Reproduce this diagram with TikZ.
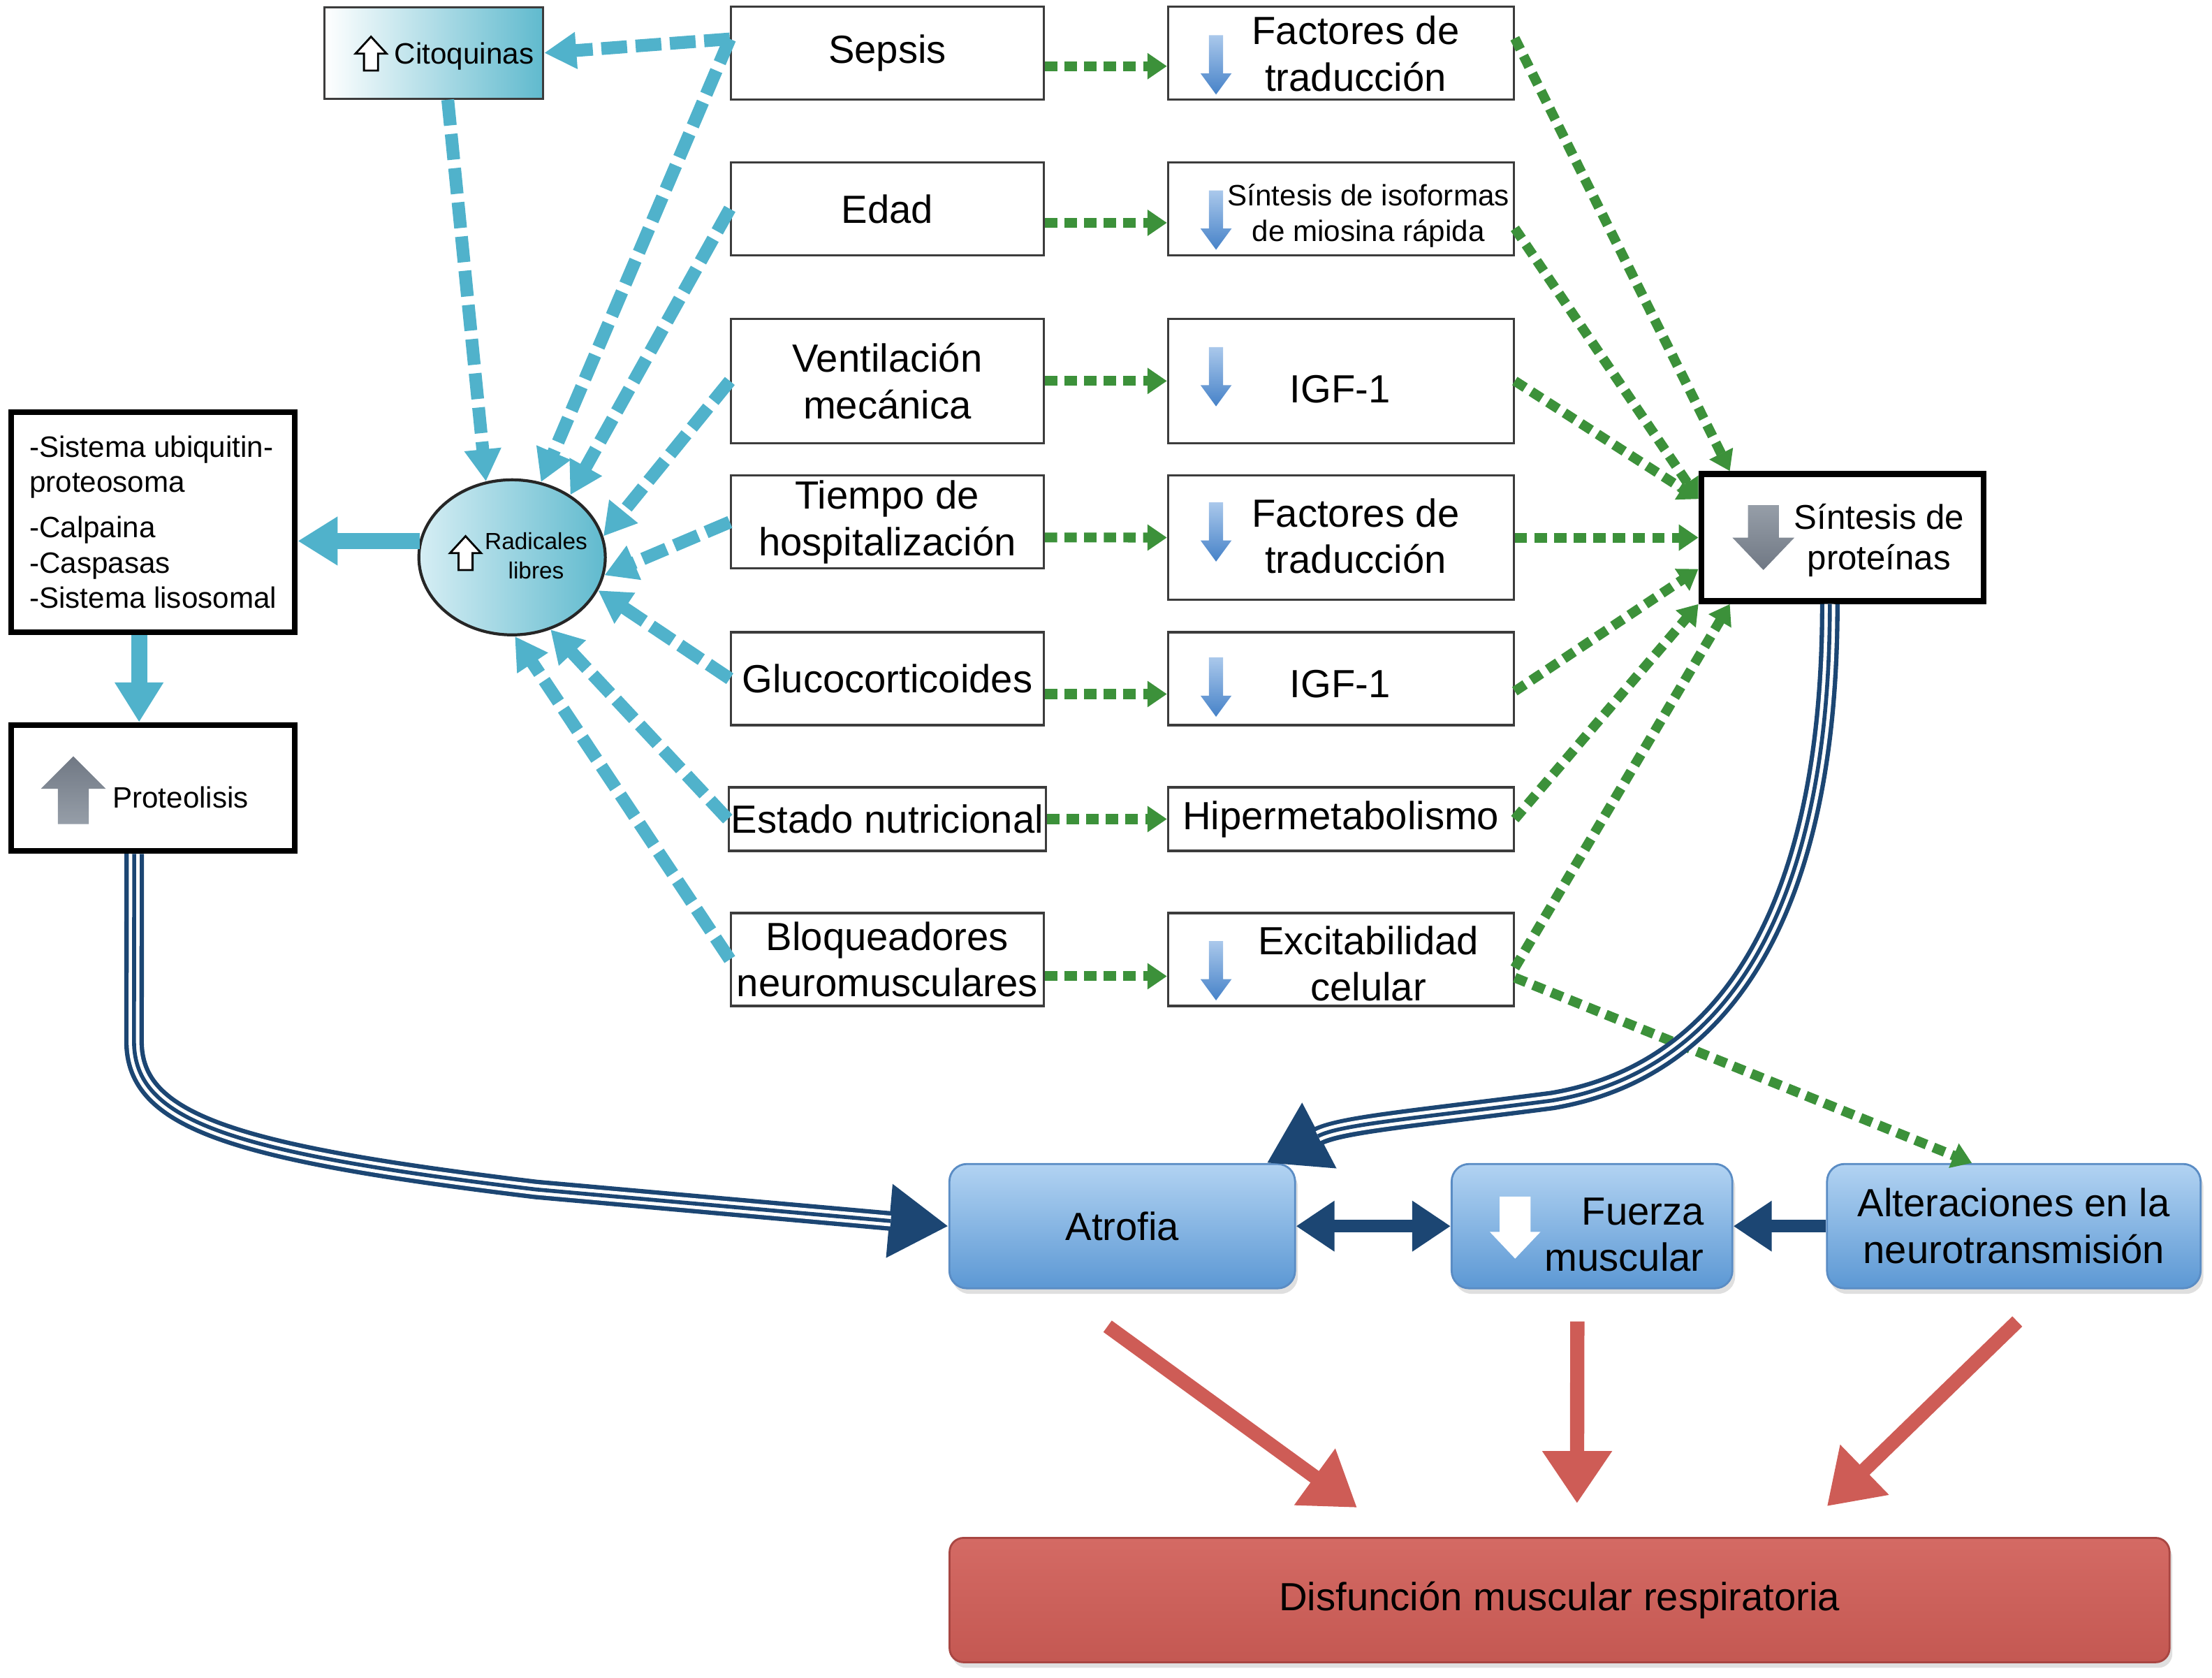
\documentclass[tikz,border=0pt]{standalone}
\usepackage{fontspec}
\setmainfont{Liberation Sans}
\usetikzlibrary{arrows.meta, shapes.geometric, shadows}

\definecolor{cyanline}{RGB}{80,178,203}
\definecolor{citocyan}{RGB}{96,186,206}
\definecolor{radlight}{RGB}{214,238,244}
\definecolor{greenline}{RGB}{60,145,58}
\definecolor{navyline}{RGB}{28,70,115}
\definecolor{redline}{RGB}{206,92,86}
\definecolor{boxgrey}{RGB}{60,60,60}
\definecolor{bluetop}{RGB}{178,211,242}
\definecolor{bluebot}{RGB}{92,152,212}
\definecolor{blueedge}{RGB}{90,140,196}
\definecolor{redtop}{RGB}{212,106,100}
\definecolor{redbot}{RGB}{196,88,82}
\definecolor{rededge}{RGB}{168,70,66}
\definecolor{icontop}{RGB}{170,200,235}
\definecolor{iconbot}{RGB}{70,130,200}
\definecolor{greytop}{RGB}{150,158,168}
\definecolor{greybot}{RGB}{112,120,132}

\newcommand{\fbig}{\fontsize{16}{19}\selectfont}
\newcommand{\fmid}{\fontsize{14}{16.7}\selectfont}
\newcommand{\fsmall}{\fontsize{12}{14.4}\selectfont}
\newcommand{\ftiny}{\fontsize{9.5}{12}\selectfont}

\begin{document}
\begin{tikzpicture}[
    x=0.0202cm, y=-0.0202cm,
    every node/.style={align=center, inner sep=1pt, font=\fbig},
    colbox/.style={draw=boxgrey, line width=0.9pt, fill=white, minimum width=4.48cm, minimum height=1.33cm}, % factor boxes
    effbox/.style={colbox, minimum width=4.95cm}, % effect boxes
    heavybox/.style={draw=black, line width=2.4pt, fill=white, minimum width=4.06cm},
    bluebox/.style={draw=blueedge, line width=0.8pt, rounded corners=0.25cm, top color=bluetop, bottom color=bluebot, minimum height=1.78cm, drop shadow={shadow xshift=0.04cm, shadow yshift=-0.08cm, opacity=0.25}},
    cyandash/.style={draw=cyanline, line width=5.2pt, dash pattern=on 10.5pt off 3.5pt, -{Triangle[length=0.46cm, width=0.5cm]}},
    cyanfat/.style={draw=cyanline, line width=6.5pt, -{Triangle[length=0.57cm, width=0.66cm]}},
    greendot/.style={draw=greenline, line width=4pt, dash pattern=on 5pt off 3pt, -{Triangle[length=0.28cm, width=0.36cm]}},
    navyarr/.style={draw=navyline, line width=5pt, >={Triangle[length=0.55cm, width=0.69cm]}},
    redarr/.style={draw=redline, line width=5.8pt, -{Triangle[length=0.75cm, width=0.95cm]}},
    tube/.style={draw=navyline, line width=8pt, -{Triangle[length=0.85cm, width=1cm]},
        postaction={draw=white, line width=4.4pt, shorten >=0.83cm, -},
        postaction={draw=navyline, line width=1.6pt, shorten >=0.83cm, -}},
    pics/blockarr/.style n args={4}{code={
        \path[pic actions] (-#1,-#3) -- (#1,-#3) -- (#1,#4) -- (#2,#4) -- (0,#3) -- (-#2,#4) -- (-#1,#4) -- cycle;}}
    ]
    \useasboundingbox (0,0) rectangle (1568,1189);

    % causes
    \node[colbox] (sepsis) at (629,37.5) {Sepsis};
    \node[colbox] (edad) at (629,148) {Edad};
    \node[colbox, minimum height=1.78cm] (vent) at (629,270) {Ventilación\\mecánica};
    \node[colbox] (tiempo) at (629,370) {Tiempo de\\hospitalización};
    \node[colbox] (gluco) at (629,481) {Glucocorticoides};
    \node[colbox, minimum height=0.91cm] (estado) at (629,580.5) {Estado nutricional};
    \node[colbox] (bloq) at (629,680) {Bloqueadores\\neuromusculares};

    % effects
    \node[effbox] (fac1) at (950.5,37.5) {};
    \node[effbox] (iso) at (950.5,148) {};
    \node[effbox, minimum height=1.78cm] (igf1) at (950.5,270) {};
    \node[effbox, minimum height=1.78cm] (fac2) at (950.5,381) {};
    \node[effbox] (igf2) at (950.5,481) {};
    \node[effbox, minimum height=0.91cm] (hiper) at (950.5,580.5) {Hipermetabolismo};
    \node[effbox] (exci) at (950.5,680) {};
    \node (fac1-t) at (961,38) {Factores de\\traducción};
    \node[font=\fsmall] (iso-t) at (970,153) {Síntesis de isoformas\\de miosina rápida};
    \node (igf1-t) at (950,276) {IGF-1};
    \node (fac2-t) at (961,380) {Factores de\\traducción};
    \node (igf2-t) at (950,485) {IGF-1};
    \node (exci-t) at (970,683) {Excitabilidad\\celular};
    \foreach \y in {46,156,267,377,487,688}
        \pic[top color=icontop, bottom color=iconbot] at (862,\y) {blockarr={5}{11}{21}{6}};

    % left side
    \node[draw=boxgrey, line width=0.9pt, left color=white, right color=citocyan, minimum width=3.13cm, minimum height=1.31cm] (cito) at (307.5,37.5) {};
    \node[font=\fsmall] (cito-t) at (329,40) {Citoquinas};
    \node[ellipse, draw=black!85, line width=1.2pt, left color=radlight, right color=citocyan, minimum width=2.67cm, minimum height=2.22cm, inner sep=0pt] (rad) at (363,395) {};
    \node[font=\ftiny] (rad-t) at (380,394) {Radicales\\libres};
    \foreach \p in {(263,38),(330,392)}
        \pic[draw=black, line width=0.8pt, fill=white, rotate=180] at \p {blockarr={5}{11}{12}{0}};
    \node[heavybox, minimum height=3.15cm, align=left, font=\fsmall] (ubiq) at (108.5,370) {-Sistema ubiquitin-\\proteosoma\\[4pt]-Calpaina\\-Caspasas\\-Sistema lisosomal};
    \node[heavybox, minimum height=1.8cm] (prot) at (108.5,558.5) {};
    \node[font=\fsmall] (prot-t) at (128,565) {Proteolisis};
    \pic[top color=greybot, bottom color=greytop, rotate=180] at (52,560) {blockarr={11}{23}{24}{1}};

    % protein synthesis
    \node[heavybox, minimum width=4.04cm, minimum height=1.82cm] (sint) at (1306,381) {};
    \node[font=\fmid] (sint-t) at (1332,383) {Síntesis de\\proteínas};
    \pic[top color=greytop, bottom color=greybot] at (1250,381) {blockarr={11}{22}{23}{0}};

    % outcome boxes
    \node[bluebox, minimum width=4.95cm] (atro) at (795.5,869) {Atrofia};
    \node[bluebox, minimum width=4.02cm] (fuer) at (1128.5,869) {};
    \node[anchor=east, align=right] (fuer-t) at (1210,875) {Fuerza\\muscular};
    \pic[fill=white] at (1074,870) {blockarr={11}{18}{22}{3}};
    \node[bluebox, minimum width=5.35cm] (alte) at (1427.5,869) {Alteraciones en la\\neurotransmisión};
    \node[draw=rededge, line width=0.8pt, rounded corners=0.2cm, top color=redtop, bottom color=redbot, minimum width=17.47cm, minimum height=1.78cm, drop shadow={shadow xshift=0.04cm, shadow yshift=-0.08cm, opacity=0.25}] (disf) at (1105.5,1134) {Disfunción muscular respiratoria};

    % cyan connectors
    \draw[cyandash] ([yshift=0.2cm]sepsis.west) -- (cito.east);
    \draw[cyandash] ([xshift=0.2cm]cito.south) -- (rad.109);
    \draw[cyandash] ([yshift=0.2cm]sepsis.west) -- (rad.69);
    \foreach \src/\ang in {edad/47, vent/13, tiempo/-11, gluco/-21, estado/-62, bloq/-88}
        \draw[cyandash] (\src.west) -- (rad.\ang);
    \draw[cyanfat] (rad.170) -- (rad.170 -| ubiq.east);
    \draw[cyanfat] ([xshift=-0.2cm]ubiq.south) -- ([xshift=-0.2cm]prot.north);

    % green connectors
    \foreach \a/\b/\s/\t in {sepsis/fac1/-0.19cm/-0.19cm, edad/iso/-0.2cm/-0.2cm, vent/igf1/0cm/0cm, tiempo/fac2/-0.22cm/0cm, gluco/igf2/-0.22cm/-0.22cm, estado/hiper/0cm/0cm, bloq/exci/-0.24cm/-0.24cm}
        \draw[greendot] ([yshift=\s]\a.east) -- ([yshift=\t]\b.west);
    \draw[greendot] ([yshift=0.21cm]fac1.east) -- ([xshift=0.45cm]sint.north west);
    \draw[greendot] ([yshift=-0.28cm]iso.east) -- ([yshift=-0.4cm]sint.north west);
    \draw[greendot] (igf1.east) -- ([yshift=-0.4cm]sint.north west);
    \draw[greendot] (fac2.east) -- (sint.west);
    \draw[greendot] ([yshift=-0.18cm]igf2.east) -- ([yshift=-0.45cm]sint.west);
    \draw[greendot] (hiper.east) -- (sint.south west);
    \draw[greendot] ([yshift=-0.12cm]exci.east) -- ([xshift=0.45cm]sint.south west);
    \draw[greendot] ([yshift=-0.26cm]exci.east) -- ([xshift=-0.6cm]alte.north);

    % navy connectors
    \draw[tube] ([xshift=-0.27cm]prot.south) -- (95,738) .. controls (95,795) and (165,817) .. (380,843) -- (atro.west);
    \draw[tube] ([xshift=-0.18cm]sint.south) .. controls (1297,650) and (1220,760) .. (1100,780) .. controls (1000,793) and (950,797) .. ([xshift=-0.42cm]atro.north east);
    \draw[navyarr, <->] (atro.east) -- (fuer.west);
    \draw[navyarr, ->] (alte.west) -- (fuer.east);

    % red connectors
    \draw[redarr] ([xshift=-0.21cm, yshift=-0.53cm]atro.south) -- ([xshift=-2.9cm, yshift=0.42cm]disf.north);
    \draw[redarr] ([xshift=-0.21cm, yshift=-0.46cm]fuer.south) -- ([xshift=0.25cm, yshift=0.48cm]disf.north);
    \draw[redarr] ([xshift=0.05cm, yshift=-0.46cm]alte.south) -- ([xshift=3.83cm, yshift=0.44cm]disf.north);
\end{tikzpicture}
\end{document}
